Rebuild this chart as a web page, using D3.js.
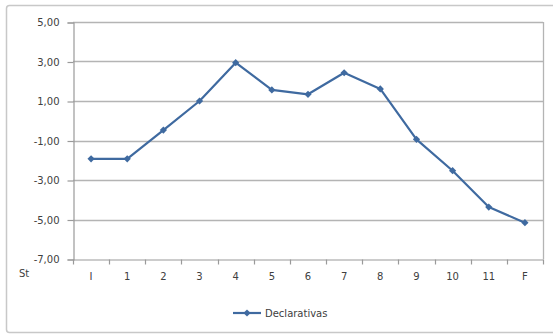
<!DOCTYPE html>
<html>
<head>
<meta charset="utf-8">
<script src="https://cdn.jsdelivr.net/npm/d3@7/dist/d3.min.js"></script>
<style>
  html, body { margin: 0; padding: 0; background: #fff; }
  svg { display: block; }
  text { font-family: "DejaVu Sans", "Liberation Sans", sans-serif; fill: #404040; }
</style>
</head>
<body>
<svg id="chart" width="553" height="334"></svg>
<script>
// Categories along the x axis (start, stages 1–11, final)
const categories = ["I", "1", "2", "3", "4", "5", "6", "7", "8", "9", "10", "11", "F"];
// Series: Declarativas
const seriesName = "Declarativas";
const declarativas = [-1.93, -1.93, -0.47, 1.0, 2.94, 1.56, 1.34, 2.43, 1.61, -0.94, -2.53, -4.37, -5.16];
// Y axis ticks
const yTicks = [5, 3, 1, -1, -3, -5, -7];
const yDomain = [-7, 5];

const svg = d3.select("#chart");
const plot = { left: 73, right: 543, top: 22, bottom: 259 };

// Chart area frame
svg.append("rect")
  .attr("x", 6.5).attr("y", 5.5)
  .attr("width", 560).attr("height", 327)
  .attr("rx", 3)
  .attr("fill", "#fff")
  .attr("stroke", "#c8c8c8")
  .attr("stroke-width", 1.5);

const x = d3.scaleBand().domain(categories).range([plot.left, plot.right]).padding(0);
const y = d3.scaleLinear().domain(yDomain).range([plot.bottom, plot.top]);

// Horizontal gridlines
svg.append("g")
  .selectAll("line")
  .data(yTicks.filter(d => d !== -7))
  .join("line")
  .attr("x1", plot.left).attr("x2", plot.right)
  .attr("y1", d => Math.round(y(d)) + 0.5).attr("y2", d => Math.round(y(d)) + 0.5)
  .attr("stroke", "#b4b4b4")
  .attr("stroke-width", 1.3);

// Plot area right edge
svg.append("line")
  .attr("x1", plot.right + 0.5).attr("x2", plot.right + 0.5)
  .attr("y1", plot.top).attr("y2", plot.bottom)
  .attr("stroke", "#b4b4b4").attr("stroke-width", 1.3);

// Y axis
const yAxis = d3.axisLeft(y)
  .tickValues(yTicks)
  .tickSize(6)
  .tickPadding(8)
  .tickFormat(d => d3.format(".2f")(d).replace(".", ",").replace("−", "-"));
const gy = svg.append("g")
  .attr("transform", `translate(${plot.left + 0.5},0.5)`)
  .call(yAxis);
gy.selectAll("path, line").attr("stroke", "#9a9a9a").attr("stroke-width", 1.2);
gy.selectAll("text").attr("font-size", 10).attr("fill", "#3a3a3a");

// X axis with ticks at category boundaries
const xAxis = d3.axisBottom(x).tickSize(0).tickPadding(13);
const gx = svg.append("g")
  .attr("transform", `translate(0,${plot.bottom + 0.5})`)
  .call(xAxis);
gx.select("path").attr("stroke", "#9a9a9a").attr("stroke-width", 1.2);
gx.selectAll("text").attr("font-size", 10).attr("fill", "#3a3a3a");
gx.selectAll("line.boundary")
  .data(categories.map(c => x(c)).concat([plot.right]))
  .join("line")
  .attr("class", "boundary")
  .attr("x1", d => Math.round(d) + 0.5).attr("x2", d => Math.round(d) + 0.5)
  .attr("y1", 0).attr("y2", 5)
  .attr("stroke", "#9a9a9a").attr("stroke-width", 1.2);

// Axis title
svg.append("text")
  .attr("x", 19).attr("y", 277)
  .attr("font-size", 10)
  .attr("fill", "#3a3a3a")
  .text("St");

// Series line
const line = d3.line()
  .x((d, i) => x(categories[i]) + x.bandwidth() / 2)
  .y(d => y(d));
const color = "#3f6aa0";
svg.append("path")
  .datum(declarativas)
  .attr("d", line)
  .attr("fill", "none")
  .attr("stroke", color)
  .attr("stroke-width", 2.2)
  .attr("stroke-linejoin", "round");

// Square marker turned 45° gives an even diamond
const marker = d3.symbol().type(d3.symbolSquare).size(26);
svg.append("g")
  .selectAll("path")
  .data(declarativas)
  .join("path")
  .attr("transform", (d, i) => `translate(${x(categories[i]) + x.bandwidth() / 2},${y(d)}) rotate(45)`)
  .attr("d", marker)
  .attr("fill", color);

// Legend
const lg = svg.append("g").attr("transform", "translate(233,313)");
lg.append("line").attr("x1", 0).attr("x2", 28).attr("y1", 0).attr("y2", 0)
  .attr("stroke", color).attr("stroke-width", 2.2);
lg.append("path").attr("transform", "translate(14,0) rotate(45)").attr("d", marker).attr("fill", color);
lg.append("text").attr("x", 32).attr("y", 4).attr("font-size", 10).attr("fill", "#3a3a3a").text(seriesName);
</script>
</body>
</html>
